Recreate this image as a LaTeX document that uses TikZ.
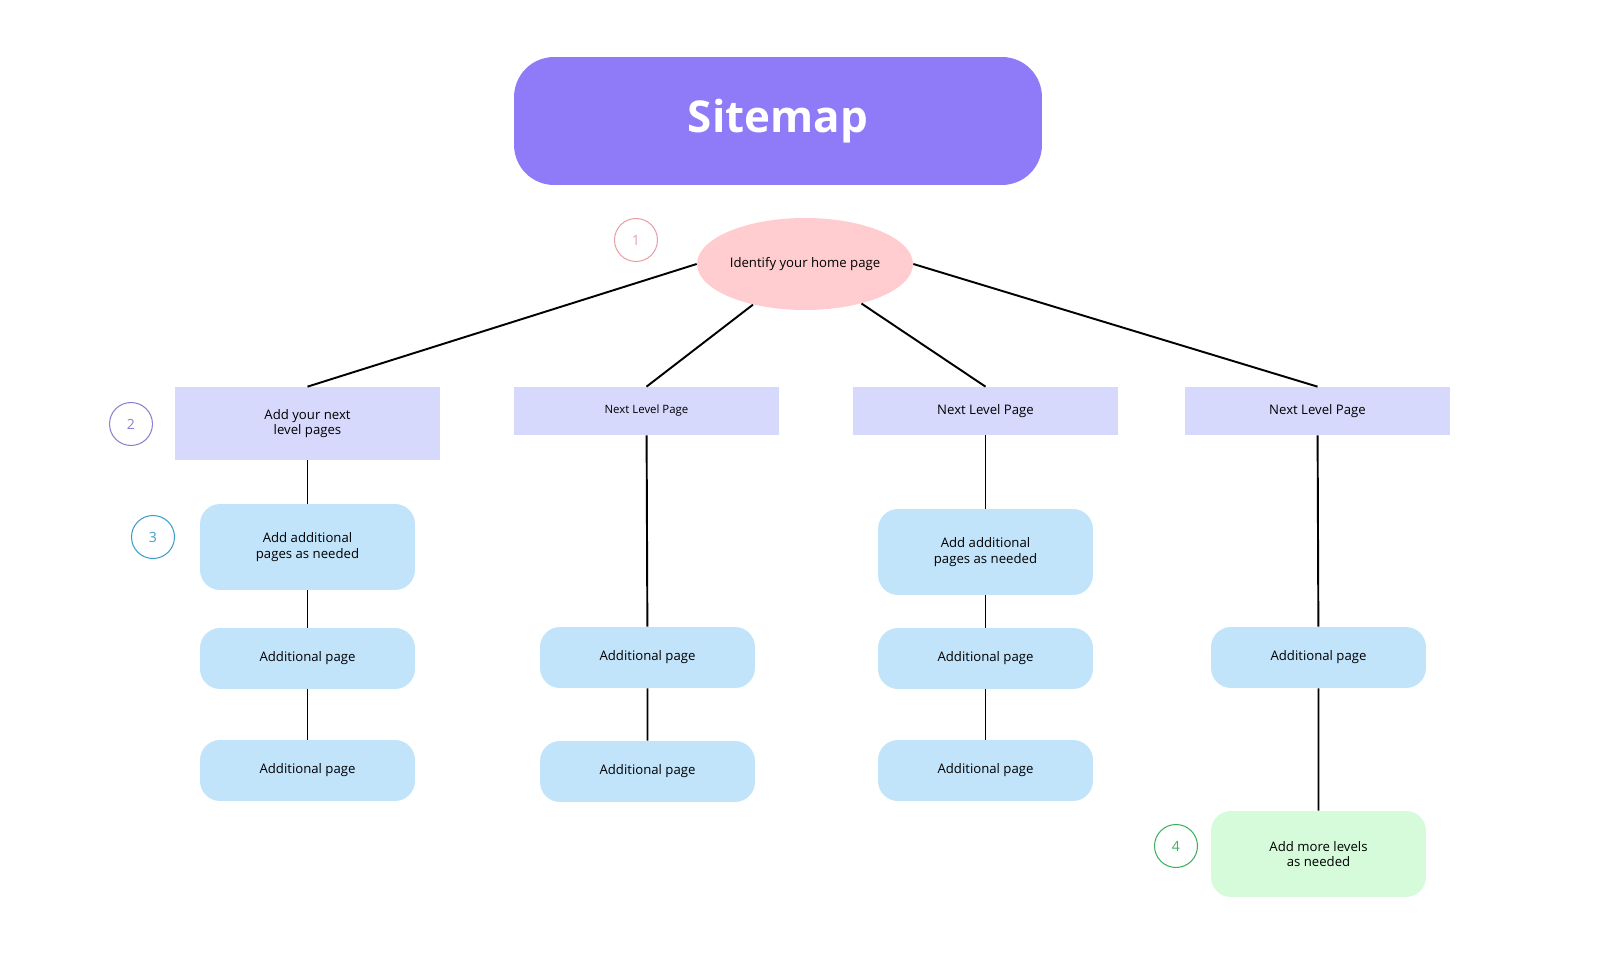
\documentclass[tikz,border=0pt]{standalone}
\usepackage{fontspec}
\setmainfont{Open Sans}
\usetikzlibrary{shapes.geometric}
\definecolor{ttl}{HTML}{8F7BF8}
\definecolor{home}{HTML}{FFCCD0}
\definecolor{lvl}{HTML}{D6D9FB}
\definecolor{pg}{HTML}{C2E4FB}
\definecolor{grn}{HTML}{D5FBDA}
\definecolor{c1}{HTML}{E8A0A8}
\definecolor{c2}{HTML}{8C7FD0}
\definecolor{c3}{HTML}{3C9CC8}
\definecolor{c4}{HTML}{3DB060}
\tikzset{
 x=0.02cm,y=-0.02cm,
 lvlbox/.style={fill=lvl,draw=none,minimum width=5.3cm,minimum height=0.96cm,align=center,font=\fontsize{7.5}{9}\selectfont,inner sep=0},
 pgbox/.style={fill=pg,draw=none,rounded corners=0.4cm,minimum width=4.3cm,minimum height=1.22cm,align=center,font=\fontsize{7.5}{9}\selectfont,inner sep=0},
 num/.style={circle,draw=#1,text=#1,minimum size=0.86cm,inner sep=0,font=\fontsize{8}{9}\selectfont,line width=0.6pt},
 conn/.style={line width=1.1pt,black}
}
\begin{document}
\begin{tikzpicture}
\useasboundingbox (0,0) rectangle (1600,969);
\node[fill=ttl,rounded corners=0.8cm,minimum width=10.56cm,minimum height=2.56cm,text=white,font=\fontsize{25}{30}\selectfont\bfseries] (title) at (778,121) {Sitemap};
\node[ellipse,fill=home,minimum width=4.32cm,minimum height=1.84cm,inner sep=0,font=\fontsize{7.5}{9}\selectfont] (home) at (805,264) {Identify your home page};
\node[num=c1] (n1) at (636,240) {1};
\node[lvlbox,minimum height=1.46cm] (l1) at (307.5,423.5) {Add your next\\level pages};
\node[lvlbox,font=\fontsize{6.5}{8}\selectfont] (l2) at (646.5,411) {Next Level Page};
\node[lvlbox] (l3) at (985.5,411) {Next Level Page};
\node[lvlbox] (l4) at (1317.5,411) {Next Level Page};
\node[num=c2] (n2) at (131,424) {2};
\node[pgbox,minimum height=1.72cm] (a1) at (307.5,547) {Add additional\\pages as needed};
\node[pgbox] (a2) at (307.5,658.5) {Additional page};
\node[pgbox] (a3) at (307.5,770.5) {Additional page};
\node[num=c3] (n3) at (153,537) {3};
\node[pgbox] (b1) at (647.5,657.5) {Additional page};
\node[pgbox] (b2) at (647.5,771.5) {Additional page};
\node[pgbox,minimum height=1.72cm] (c1n) at (985.5,552) {Add additional\\pages as needed};
\node[pgbox] (c2n) at (985.5,658.5) {Additional page};
\node[pgbox] (c3n) at (985.5,770.5) {Additional page};
\node[pgbox] (d1) at (1318.5,657.5) {Additional page};
\node[pgbox,fill=grn,minimum height=1.72cm] (d2) at (1318.5,854) {Add more levels\\as needed};
\node[num=c4] (n4) at (1176,846) {4};
\draw[conn] (home.west) -- (l1.north);
\draw[conn] (home.218) -- (l2.north);
\draw[conn] (home.325) -- (l3.north);
\draw[conn] (home.east) -- (l4.north);
\draw[conn] (l1) -- (a1) -- (a2) -- (a3);
\draw[conn] (l2) -- (b1) -- (b2);
\draw[conn] (l3) -- (c1n) -- (c2n) -- (c3n);
\draw[conn] (l4) -- (d1) -- (d2);
\end{tikzpicture}
\end{document}
